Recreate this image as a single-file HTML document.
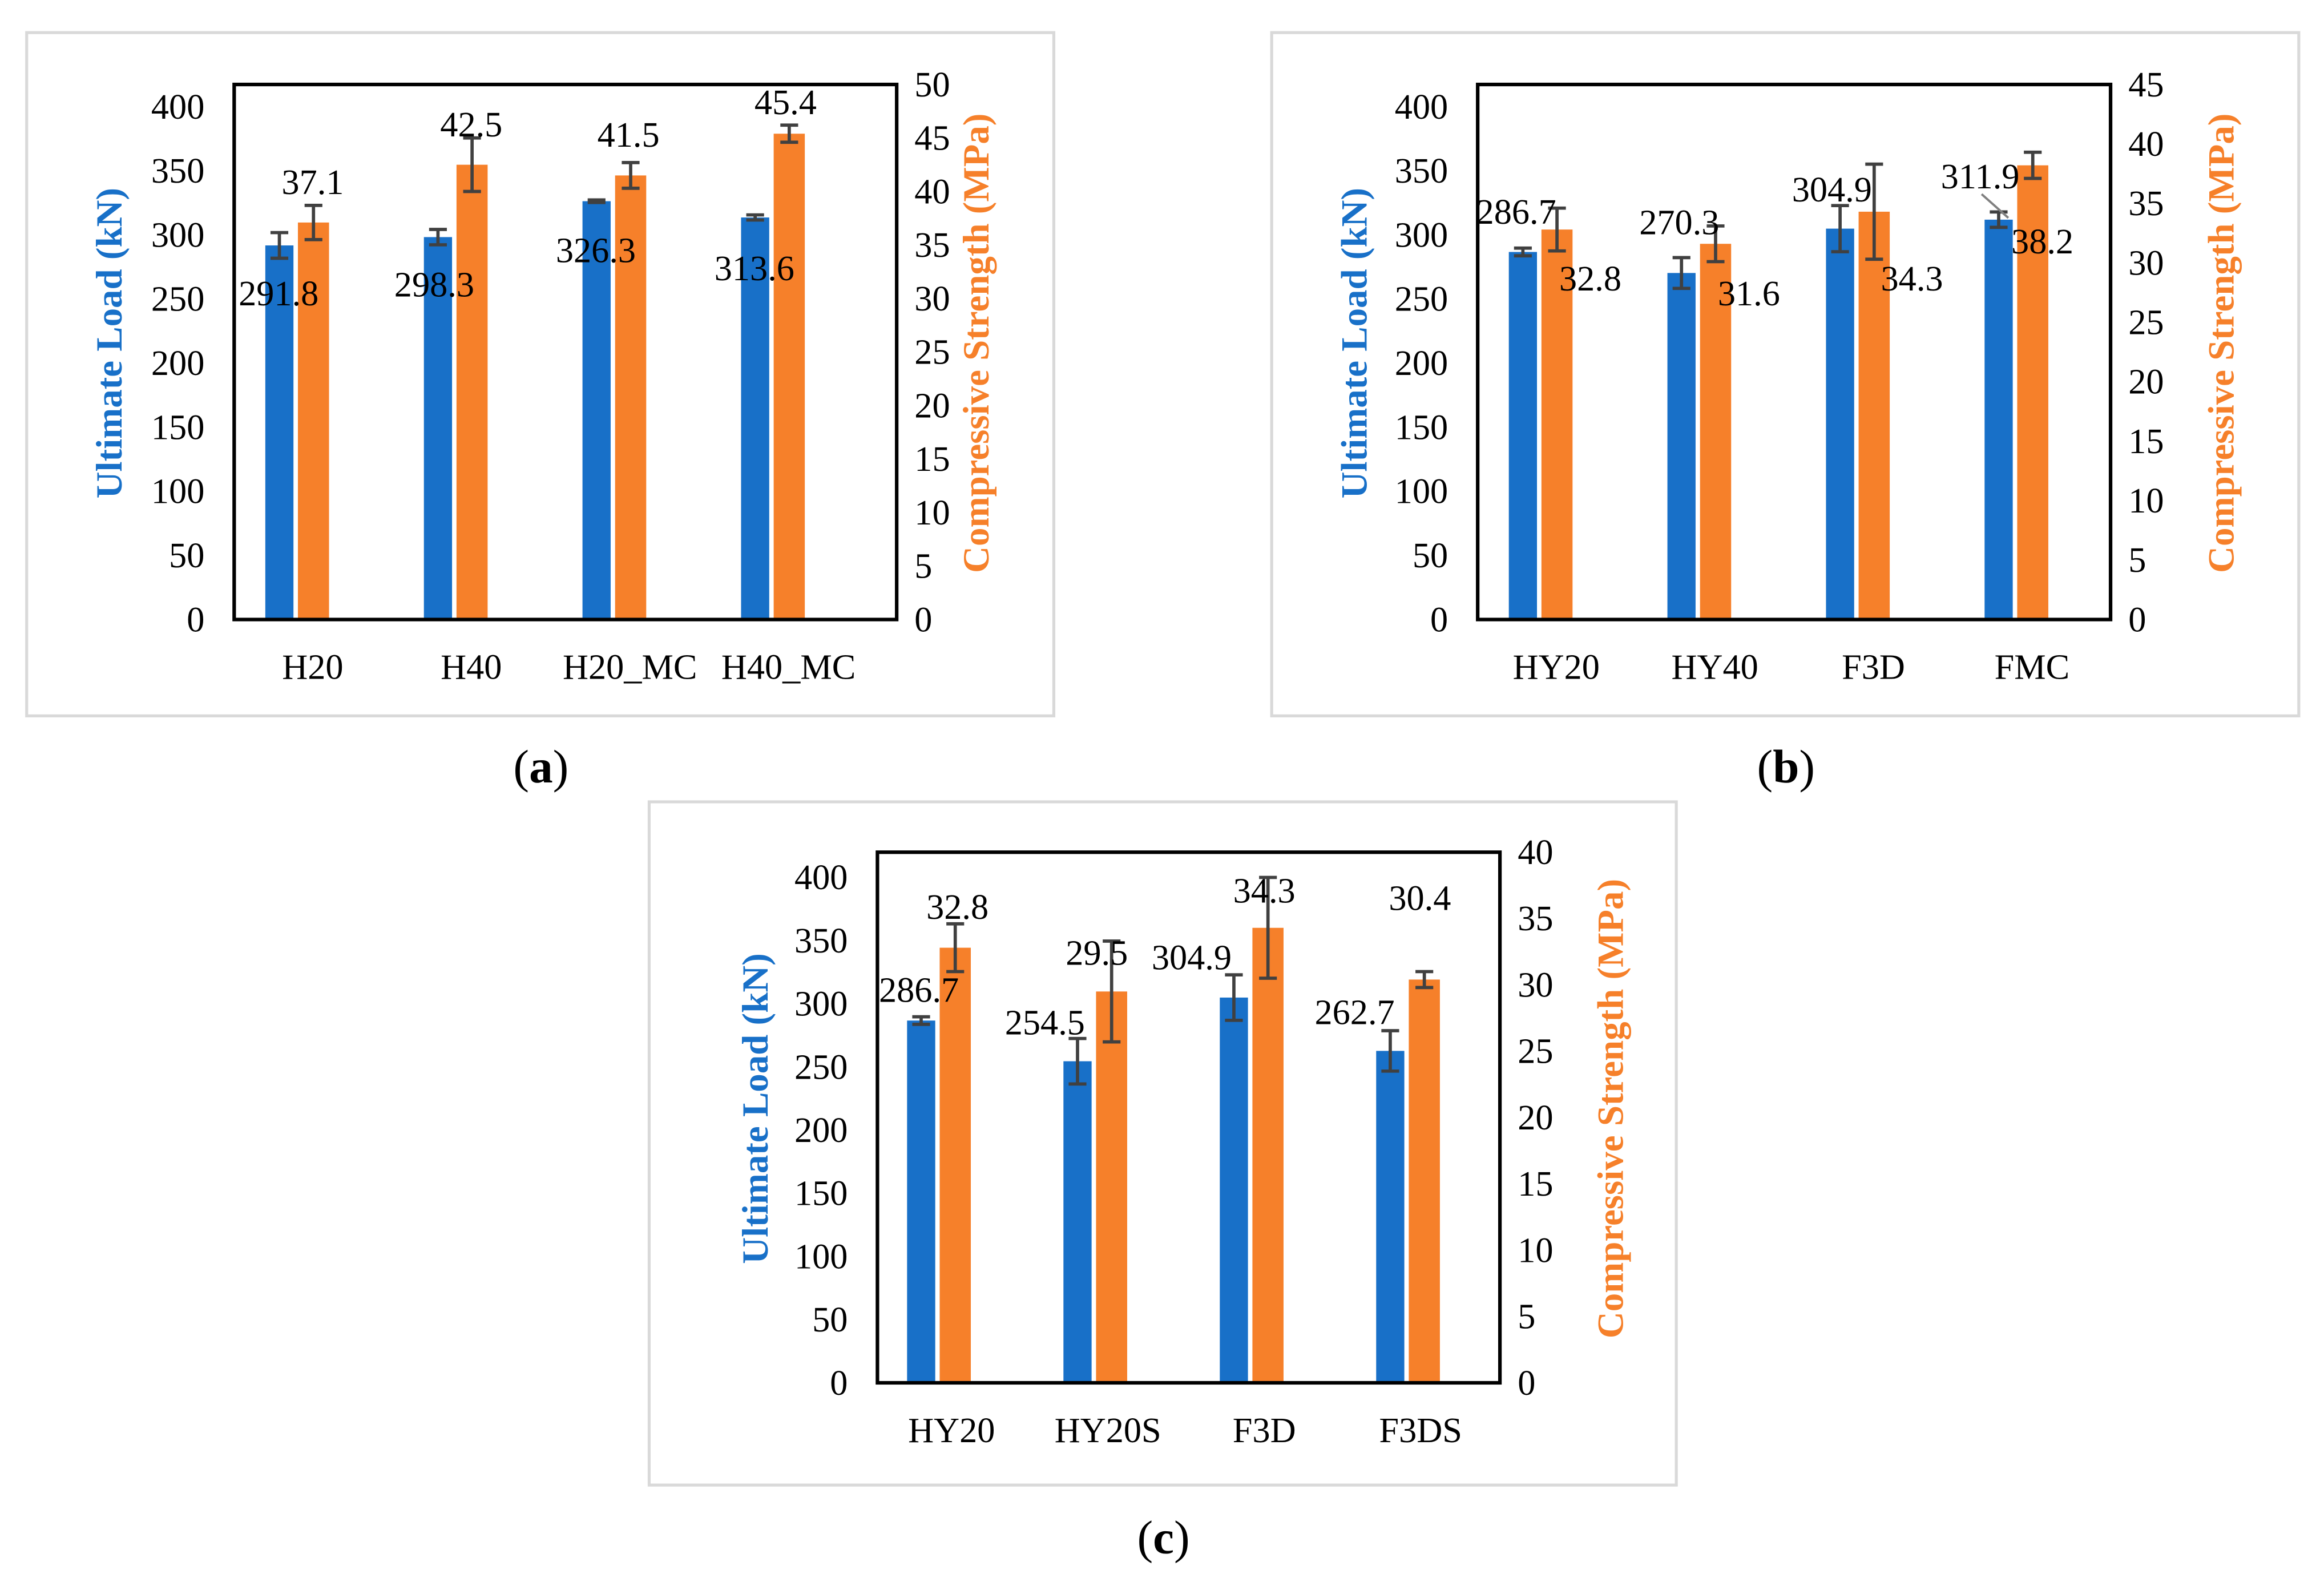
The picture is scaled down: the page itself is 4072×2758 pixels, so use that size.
<!DOCTYPE html>
<html><head><meta charset="utf-8"><style>
html,body{margin:0;padding:0;background:#fff;}
svg{display:block;font-family:"Liberation Serif",serif;}
</style></head><body>
<svg id="fig" width="4072" height="2758" viewBox="0 0 1568 1062" preserveAspectRatio="none" xmlns="http://www.w3.org/2000/svg"></svg>
<script>
// Panel (a)
const catsA = ["H20","H40","H20_MC","H40_MC"];
const loadA = [291.8,298.3,326.3,313.6];
const loadErrA = [10,6,1,2];
const strA = [37.1,42.5,41.5,45.4];
const strErrA = [1.6,2.5,1.2,0.8];
const leftTicksA = [0,50,100,150,200,250,300,350,400];
const rightTicksA = [0,5,10,15,20,25,30,35,40,45,50];
// Panel (b)
const catsB = ["HY20","HY40","F3D","FMC"];
const loadB = [286.7,270.3,304.9,311.9];
const loadErrB = [3,12,18,6];
const strB = [32.8,31.6,34.3,38.2];
const strErrB = [1.8,1.5,4,1.1];
const leftTicksB = [0,50,100,150,200,250,300,350,400];
const rightTicksB = [0,5,10,15,20,25,30,35,40,45];
// Panel (c)
const catsC = ["HY20","HY20S","F3D","F3DS"];
const loadC = [286.7,254.5,304.9,262.7];
const loadErrC = [3,18,18,16];
const strC = [32.8,29.5,34.3,30.4];
const strErrC = [1.8,3.8,3.8,0.6];
const leftTicksC = [0,50,100,150,200,250,300,350,400];
const rightTicksC = [0,5,10,15,20,25,30,35,40];

const NS="http://www.w3.org/2000/svg";
const svg=document.getElementById('fig');
const FS=24;
function mk(tag,attrs,parent){const e=document.createElementNS(NS,tag);for(const k in attrs)e.setAttribute(k,attrs[k]);(parent||svg).appendChild(e);return e;}
function txt(s,attrs,parent){const e=mk('text',attrs,parent);e.textContent=s;return e;}

function panel(cfg){
  const g=mk('g',{});
  
  
  const fr=mk('rect',{x:cfg.box[0],y:cfg.box[1],width:cfg.box[2]-cfg.box[0],height:cfg.box[3]-cfg.box[1],fill:'#fff',stroke:'#d9d9d9','stroke-width':2},g);
  
  
  const L=cfg.left,T=cfg.top,R=cfg.right,B=cfg.bottom;
  const yL=v=>B-v*cfg.lScale;
  const yR=v=>B-(v/cfg.rMax)*(B-T);
  const xC=i=>cfg.x0+i*cfg.slot;
  cfg.lt.forEach(v=>{const t=txt(String(v),{x:L-20,y:yL(v)+8,'font-size':FS,'text-anchor':'end',fill:'#000'},g);
    });
  cfg.rt.forEach(v=>{const t=txt(String(v),{x:R+12,y:yR(v)+8,'font-size':FS,'text-anchor':'start',fill:'#000'},g);
    });
  cfg.cats.forEach((c,i)=>{
    const pc=xC(i)+cfg.off;
    const b1=mk('rect',{x:pc-21,y:yL(cfg.load[i]),width:19,height:B-yL(cfg.load[i]),fill:'#1870c8'},g);
    
    const b2=mk('rect',{x:pc+1,y:yR(cfg.str[i]),width:21,height:B-yR(cfg.str[i]),fill:'#f6802a'},g);
    
    const ex1=pc-11.5, e1a=yL(cfg.load[i]+cfg.lerr[i]), e1b=yL(cfg.load[i]-cfg.lerr[i]);
    const eg1=mk('path',{d:`M${ex1},${e1a}V${e1b}M${ex1-6},${e1a}H${ex1+6}M${ex1-6},${e1b}H${ex1+6}`,stroke:'#404040','stroke-width':2.2,fill:'none'},g);
    
    const ex2=pc+11.5, e2a=yR(cfg.str[i]+cfg.serr[i]), e2b=yR(cfg.str[i]-cfg.serr[i]);
    const eg2=mk('path',{d:`M${ex2},${e2a}V${e2b}M${ex2-6},${e2a}H${ex2+6}M${ex2-6},${e2b}H${ex2+6}`,stroke:'#404040','stroke-width':2.2,fill:'none'},g);
    
    const xl=txt(c,{x:xC(i),y:B+40,'font-size':FS,'text-anchor':'middle',fill:'#000'},g);
    
    const lp=cfg.lpos[i],sp=cfg.spos[i];
    const l1=txt(cfg.load[i].toFixed(1),{x:lp[0],y:lp[1],'font-size':FS,'text-anchor':'middle',fill:'#000'},g);
    
    const l2=txt(cfg.str[i].toFixed(1),{x:sp[0],y:sp[1],'font-size':FS,'text-anchor':'middle',fill:'#000'},g);
    
  });
  const pa=mk('rect',{x:L,y:T,width:R-L,height:B-T,fill:'none',stroke:'#000','stroke-width':2.4},g);
  
  const cy=(T+B)/2-6;
  const at1=txt('Ultimate Load (kN)',{x:0,y:0,'font-size':25,'font-weight':'bold','text-anchor':'middle',fill:'#1870c8',transform:`translate(${cfg.ytl},${cy}) rotate(-90)`},g);
  
  const at2=txt('Compressive Strength (MPa)',{x:0,y:0,'font-size':25,'font-weight':'bold','text-anchor':'middle',fill:'#f6802a',transform:`translate(${cfg.ytr},${cy}) rotate(-90)`},g);
  
  const pl=txt('',{x:cfg.lab[0],y:cfg.lab[1],'font-size':32,'text-anchor':'middle',fill:'#000'},g);
  pl.innerHTML='(<tspan font-weight="bold">'+cfg.letter+'</tspan>)';
  
  return g;
}

panel({name:'panel-a',letter:'a',box:[18,22,711,483],left:158,top:57,right:605,bottom:418,
  lScale:346/400,rMax:50,x0:211,slot:107,off:-11,cats:catsA,load:loadA,lerr:loadErrA,str:strA,serr:strErrA,
  lt:leftTicksA,rt:rightTicksA,ytl:82,ytr:667,lab:[365,528],
  lpos:[[188,206],[293,200],[402,177],[509,189]],spos:[[211,131],[318,92],[424,99],[530,77]]});
panel({name:'panel-b',letter:'b',box:[858,22,1551,483],left:997,top:57,right:1424,bottom:418,
  lScale:346/400,rMax:45,x0:1050,slot:107,off:-11,cats:catsB,load:loadB,lerr:loadErrB,str:strB,serr:strErrB,
  lt:leftTicksB,rt:rightTicksB,ytl:922,ytr:1507,lab:[1205,528],
  lpos:[[1023,151],[1133,158],[1236,136],[1336,127]],spos:[[1073,196],[1180,206],[1290,196],[1378,171]]});
panel({name:'panel-c',letter:'c',box:[438,541,1131,1002],left:592,top:575,right:1012,bottom:933,
  lScale:341/400,rMax:40,x0:642,slot:105.5,off:-9,cats:catsC,load:loadC,lerr:loadErrC,str:strC,serr:strErrC,
  lt:leftTicksC,rt:rightTicksC,ytl:518,ytr:1095,lab:[785,1048],
  lpos:[[620,676],[705,698],[804,654],[914,691]],spos:[[646,620],[740,651],[853,609],[958,614]]});
const ld=mk('line',{x1:1337,y1:131,x2:1355,y2:147,stroke:'#808080','stroke-width':1.5});


</script>
</body></html>
